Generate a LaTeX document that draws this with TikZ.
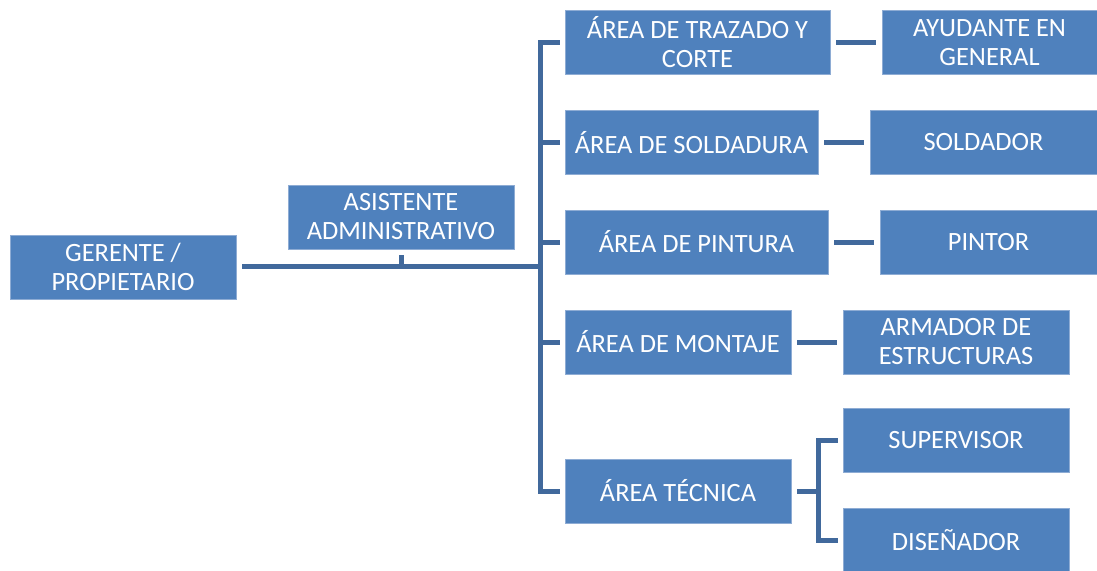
\documentclass[tikz,border=0pt]{standalone}
\usepackage{fontspec}
\setmainfont{Carlito}
\begin{document}
\begin{tikzpicture}[x=1pt,y=-1pt,
  box/.style={rectangle,fill=boxblue,draw=boxedge,line width=0.6pt,inner sep=0pt,align=center,text=white,
    font=\fontsize{26.4}{29}\selectfont},
  conn/.style={draw=lineblue,line width=5pt,line join=miter}]
\definecolor{boxblue}{HTML}{4F81BD}
\definecolor{boxedge}{HTML}{8EACD4}
\definecolor{lineblue}{HTML}{41699C}
\useasboundingbox (0,0) rectangle (1097,570);
% nodes
\node[box,minimum width=226pt,minimum height=64pt] (g) at (123,267) {GERENTE /\\PROPIETARIO};
\node[box,minimum width=226pt,minimum height=64pt] (as) at (401,217) {ASISTENTE\\ADMINISTRATIVO};
\node[box,minimum width=265pt,minimum height=64pt] (a1) at (697.5,42.5) {ÁREA DE TRAZADO Y\\CORTE};
\node[box,minimum width=253pt,minimum height=64pt] (a2) at (691.5,142.5) {ÁREA DE SOLDADURA};
\node[box,minimum width=263pt,minimum height=64pt] (a3) at (696.5,242) {ÁREA DE PINTURA};
\node[box,minimum width=226pt,minimum height=64pt] (a4) at (678,342) {ÁREA DE MONTAJE};
\node[box,minimum width=226pt,minimum height=64pt] (a5) at (678,491) {ÁREA TÉCNICA};
\node[box,minimum width=215pt,minimum height=64pt] (b1) at (989.5,42.5) {AYUDANTE EN\\GENERAL};
\node[box,minimum width=227pt,minimum height=64pt] (b2) at (983.5,142.5) {SOLDADOR};
\node[box,minimum width=217pt,minimum height=64pt] (b3) at (988.5,242) {PINTOR};
\node[box,minimum width=226pt,minimum height=64pt] (b4) at (956,342) {ARMADOR DE\\ESTRUCTURAS};
\node[box,minimum width=226pt,minimum height=64pt] (s) at (956,440.5) {SUPERVISOR};
\node[box,minimum width=226pt,minimum height=64pt] (d) at (956,540) {DISEÑADOR};
\coordinate (j) at (540,266.5);
\coordinate (k) at (818,491);
% connectors
\draw[conn] ([xshift=6pt]g.east |- j) -- (j);
\draw[conn] ([yshift=-6pt]as.south) -- (as.south |- j);
\draw[conn] ([xshift=-5pt]a1.west) -| (a5.west -| j) -- ([xshift=-5pt]a5.west);
\draw[conn] ([xshift=-5pt]a2.west) -- (a2.west -| j);
\draw[conn] ([xshift=-5pt]a3.west) -- (a3.west -| j);
\draw[conn] ([xshift=-5pt]a4.west) -- (a4.west -| j);
\draw[conn] ([xshift=6pt]a1.east) -- ([xshift=-6pt]b1.west);
\draw[conn] ([xshift=6pt]a2.east) -- ([xshift=-6pt]b2.west);
\draw[conn] ([xshift=6pt]a3.east) -- ([xshift=-6pt]b3.west);
\draw[conn] ([xshift=6pt]a4.east) -- ([xshift=-6pt]b4.west);
\draw[conn] ([xshift=6pt]a5.east) -- (k);
\draw[conn] ([xshift=-5pt]s.west) -| (d.west -| k) -- ([xshift=-5pt]d.west);
\end{tikzpicture}
\end{document}
